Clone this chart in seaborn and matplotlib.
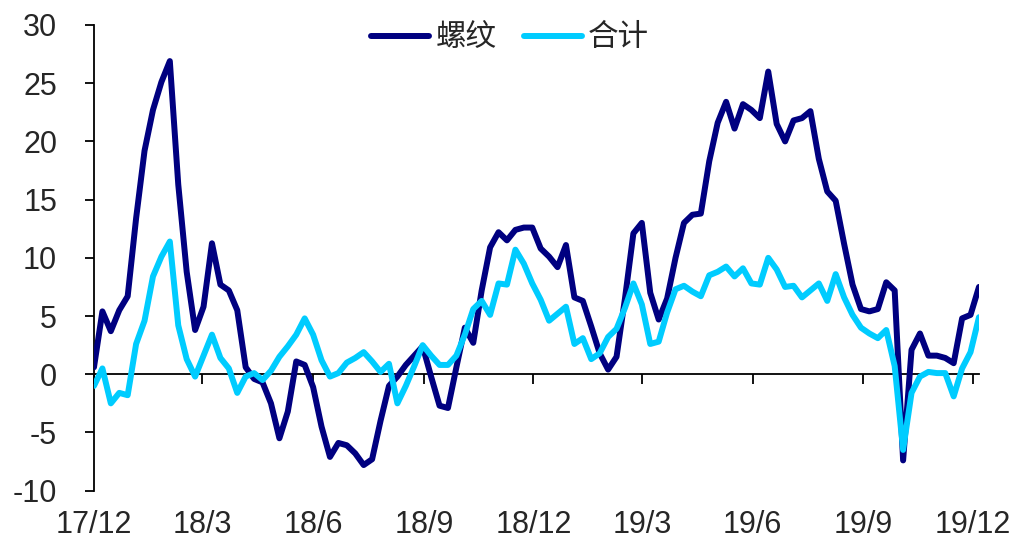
import matplotlib
matplotlib.use("Agg")
import matplotlib.pyplot as plt
import pandas as pd
import seaborn as sns

# Weekly series, starting 2017-12-01
start_date = "2017-12-01"
rebar = [0.6, 5.4, 3.7, 5.5, 6.7, 13.4, 19.2, 22.7, 25.1, 26.9,
         16.3, 8.8, 3.8, 5.8, 11.25, 7.7, 7.2, 5.5, 0.6, -0.4,
         -0.7, -2.5, -5.5, -3.2, 1.1, 0.8, -1.1, -4.5, -7.1, -5.9,
         -6.1, -6.8, -7.8, -7.3, -4.0, -1.0, -0.2, 0.8, 1.6, 2.4,
         -0.2, -2.7, -2.9, 0.6, 4.0, 2.7, 7.2, 10.9, 12.2, 11.5,
         12.4, 12.6, 12.6, 10.8, 10.1, 9.2, 11.1, 6.6, 6.3, 4.1,
         1.8, 0.4, 1.5, 6.5, 12.1, 13.0, 7.0, 4.7, 6.5, 10.0,
         13.0, 13.7, 13.8, 18.3, 21.6, 23.4, 21.1, 23.2, 22.7, 22.0,
         26.0, 21.5, 20.0, 21.8, 22.0, 22.6, 18.5, 15.7, 14.9, 11.2,
         7.7, 5.6, 5.4, 5.6, 7.9, 7.2, -7.4, 2.1, 3.5, 1.6,
         1.6, 1.4, 0.95, 4.8, 5.1, 7.5]
total = [-1.0, 0.5, -2.5, -1.6, -1.8, 2.6, 4.6, 8.4, 10.1, 11.4,
         4.2, 1.3, -0.2, 1.6, 3.4, 1.4, 0.5, -1.6, -0.2, 0.1,
         -0.5, 0.3, 1.5, 2.4, 3.4, 4.8, 3.4, 1.2, -0.2, 0.1,
         1.0, 1.4, 1.9, 1.1, 0.2, 0.9, -2.5, -1.0, 0.7, 2.5,
         1.6, 0.8, 0.8, 1.6, 3.4, 5.6, 6.3, 5.1, 7.8, 7.7,
         10.7, 9.5, 7.8, 6.4, 4.6, 5.2, 5.8, 2.6, 3.1, 1.3,
         1.8, 3.2, 3.9, 5.7, 7.8, 6.0, 2.6, 2.8, 5.3, 7.3,
         7.6, 7.1, 6.7, 8.5, 8.8, 9.25, 8.4, 9.1, 7.8, 7.7,
         10.0, 9.0, 7.5, 7.6, 6.6, 7.2, 7.8, 6.3, 8.6, 6.6,
         5.1, 4.0, 3.5, 3.1, 3.8, 0.7, -6.5, -1.6, -0.2, 0.2,
         0.1, 0.1, -1.9, 0.5, 1.9, 4.9]
series_names = ["螺纹", "合计"]
series_colors = ["#000080", "#00CCFF"]
tick_dates = ["2017-12-01", "2018-03-01", "2018-06-01", "2018-09-01", "2018-12-01",
              "2019-03-01", "2019-06-01", "2019-09-01", "2019-12-01"]
tick_labels = ["17/12", "18/3", "18/6", "18/9", "18/12", "19/3", "19/6", "19/9", "19/12"]
y_ticks = [-10, -5, 0, 5, 10, 15, 20, 25, 30]

dates = pd.date_range(start_date, periods=len(rebar), freq="7D")
df = pd.concat([
    pd.DataFrame({"date": dates, "value": rebar, "series": series_names[0]}),
    pd.DataFrame({"date": dates, "value": total, "series": series_names[1]}),
])

sns.set_style("white")
plt.rcParams["font.family"] = ["Liberation Sans", "Noto Sans CJK SC", "DejaVu Sans"]
plt.rcParams["axes.unicode_minus"] = False

fig = plt.figure(figsize=(10.17, 5.42), dpi=100)
ax = fig.add_axes([0.0924, 0.0947, 0.8702, 0.8592])

sns.lineplot(data=df, x="date", y="value", hue="series", hue_order=series_names,
             palette=series_colors, linewidth=4.3, ax=ax, legend=False,
             solid_joinstyle="round", solid_capstyle="round")

ax.set_ylim(-10, 30)
ax.set_xlim(dates[0], dates[-1])
ax.set_yticks(y_ticks)
ax.set_yticklabels([str(v) for v in y_ticks])
ax.set_xticks(pd.to_datetime(tick_dates))
ax.set_xticklabels(tick_labels)
ax.set_xlabel("")
ax.set_ylabel("")

for side in ["top", "right"]:
    ax.spines[side].set_visible(False)
ax.spines["bottom"].set_position(("data", 0))
for side in ["left", "bottom"]:
    ax.spines[side].set_color("black")
    ax.spines[side].set_linewidth(1.3)
    ax.spines[side].set_zorder(0.5)

ax.tick_params(axis="y", direction="out", length=6.5, width=1.3, color="black",
               labelsize=22, pad=20, left=True)
ax.tick_params(axis="x", direction="out", length=7, width=1.3, color="black",
               labelsize=22, pad=91, bottom=True)

handles = [plt.Line2D([], [], color=c, linewidth=4.3, solid_capstyle="round")
           for c in series_colors]
fig.legend(handles, series_names, loc="center", bbox_to_anchor=(510 / 1017, 1 - 38 / 542),
           ncol=2, frameon=False, handlelength=1.9, handletextpad=0.2, columnspacing=0.9,
           prop={"family": ["Noto Sans CJK SC"], "size": 22})

fig.savefig("out.png", dpi=100)
